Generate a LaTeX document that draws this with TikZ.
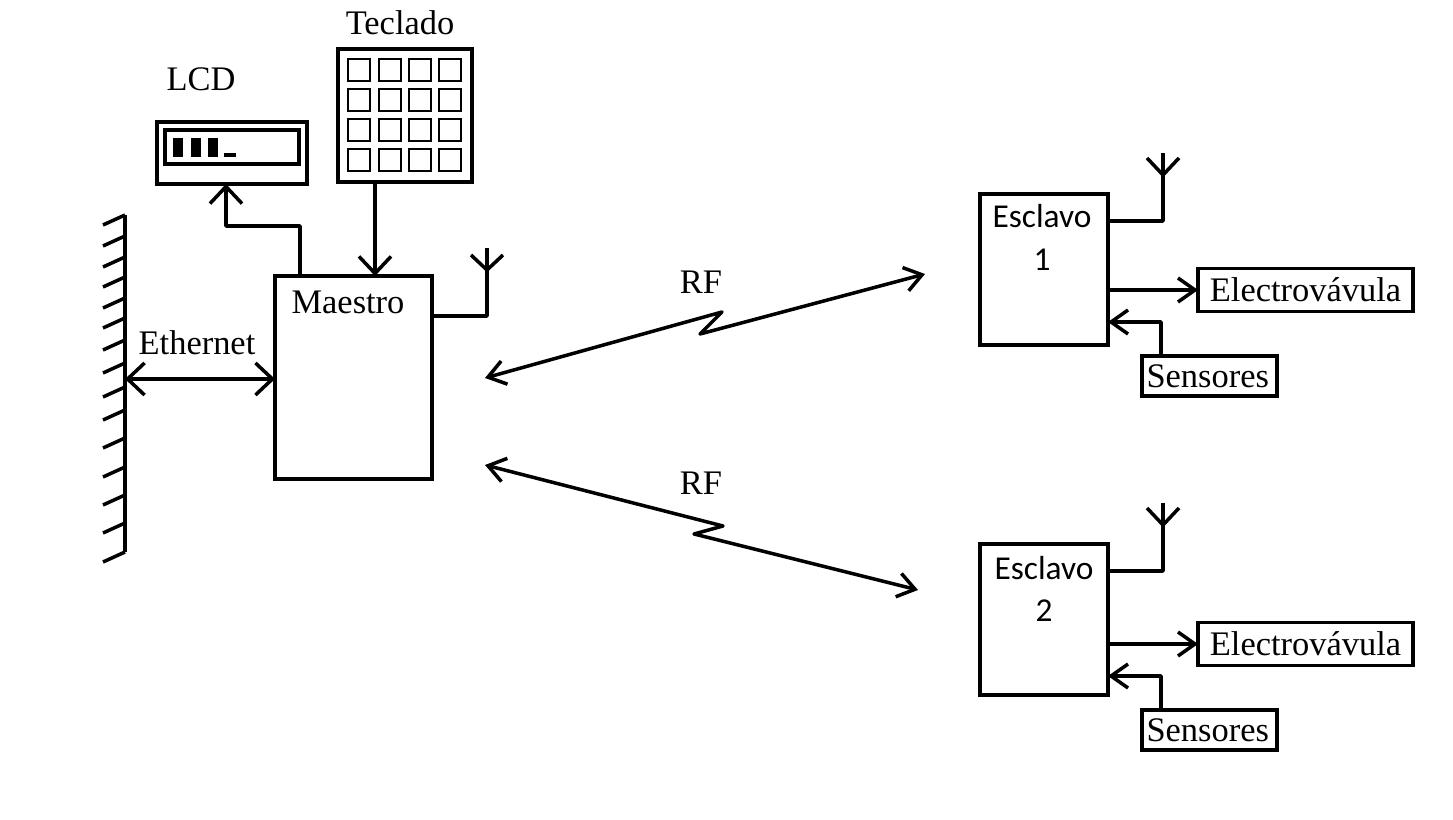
\documentclass[tikz,border=0pt]{standalone}
\usepackage{fontspec}
\setmainfont{Liberation Serif}
\newfontfamily\calibrifont{Carlito}
\usetikzlibrary{arrows.meta}

\tikzset{
    linea/.style={line width=2pt, line join=round},
    flecha/.style={linea, >={Straight Barb[length=3.4mm, width=4.8mm]}},
    flechaG/.style={linea, >={Straight Barb[length=3.4mm, width=6.4mm]}},
    bloque/.style={draw, line width=1.9pt, inner sep=0pt, outer sep=0pt},
    texto/.style={inner sep=0pt, font=\fontsize{19.6}{24}\selectfont},
    textoesc/.style={inner sep=0pt, font=\calibrifont\fontsize{19}{23}\selectfont},
}

\begin{document}
\begin{tikzpicture}[x=0.02cm, y=-0.02cm]
    \useasboundingbox (0,0) rectangle (1453,820);
    % Pared de Ethernet
    \coordinate (paredsup) at (125,215);
    \coordinate (paredinf) at (125,552);
    \coordinate (pared) at (125,379);
    \draw[linea] (paredsup) -- (paredinf);
    \foreach \y in {215,236,257,277,298,318,340,363,387,410,438,467,495,523,552}
        \draw[linea] (125,\y) -- ++(-22,10);
    % Maestro
    \node[bloque, minimum width=3.14cm, minimum height=4.06cm] (maestro) at (353.5,377.5) {};
    \node[texto] (txtmaestro) at (348,302) {Maestro};
    \node[texto] (txtethernet) at (197,343) {Ethernet};
    \draw[flechaG, <->] (pared) -- (pared -| maestro.west);
    % LCD
    \node[bloque, minimum width=3cm, minimum height=1.24cm] (lcd) at (232,153) {};
    \node[bloque, minimum width=2.68cm, minimum height=0.68cm] (pantalla) at (232,147) {};
    \foreach \x in {173,191,208}
        \fill (\x,138) rectangle ++(10,19);
    \fill (224,153) rectangle (236,157);
    \node[texto] (txtlcd) at (201,79) {LCD};
    \coordinate (codo1) at (300,226);
    \coordinate (codo2) at (226,226);
    \draw[flechaG, ->] (maestro.north -| codo1) -- (codo1) -- (codo2) -- (codo2 |- lcd.south);
    % Teclado
    \node[bloque, minimum width=2.68cm, minimum height=2.66cm] (teclado) at (405,115.5) {};
    \foreach \x in {348,379,409,439}
        \foreach \y in {59,89,119,149}
            \draw[line width=1.2pt] (\x,\y) rectangle ++(22,22);
    \node[texto] (txtteclado) at (400,23) {Teclado};
    \coordinate (tec) at (375,230);
    \draw[flechaG, ->] (tec |- teclado.south) -- (tec |- maestro.north);
    % Antena del maestro
    \coordinate (basem) at (487,316);
    \coordinate (antenam) at (487,248);
    \draw[linea] (basem -| maestro.east) -- (basem) -- (antenam);
    \draw[linea] (antenam) ++(-16,7) -- ++(16,15) -- ++(16,-15);
    % Enlaces RF
    \coordinate (rf1a) at (485,378);
    \coordinate (rf1b) at (722,312);
    \coordinate (rf1c) at (700,334);
    \coordinate (rf1d) at (925,274);
    \draw[flecha, <->] (rf1a) -- (rf1b) -- (rf1c) -- (rf1d);
    \node[texto] (txtrf1) at (701,282) {RF};
    \coordinate (rf2a) at (485,465);
    \coordinate (rf2b) at (723,526);
    \coordinate (rf2c) at (694,534);
    \coordinate (rf2d) at (918,590);
    \draw[flecha, <->] (rf2a) -- (rf2b) -- (rf2c) -- (rf2d);
    \node[texto] (txtrf2) at (701,483) {RF};
    % Esclavos
    \foreach \n/\dy/\de/\dt in {1/0/0/0, 2/350/354/2} {
        \node[bloque, minimum width=2.56cm, minimum height=3.02cm] (esclavo\n) at (1044,{269.5+\dy}) {};
        \node[textoesc] (txtesc\n) at ({1042+\dt},{216+\dy+\dt}) {Esclavo};
        \node[textoesc] (num\n) at ({1042+\dt},{260+\dy+\dt/2}) {\n};
        \node[bloque, minimum width=4.3cm, minimum height=0.86cm] (valvula\n) at (1305.5,{290+\de}) {};
        \node[texto] at (valvula\n) {Electrovávula};
        \node[bloque, minimum width=2.7cm, minimum height=0.8cm] (sensores\n) at (1209.5,{376+\de}) {};
        \node[texto] at ([xshift=-1pt]sensores\n.center) {Sensores};
        \draw[flecha, ->] (esclavo\n.east |- valvula\n) -- (valvula\n.west);
        \coordinate (codos\n) at (1161,{322+\de});
        \draw[flecha, ->] (codos\n |- sensores\n.north) -- (codos\n) -- (codos\n -| esclavo\n.east);
        \coordinate (basee\n) at (1163,{221+\dy});
        \coordinate (antenae\n) at (1163,{153+\dy});
        \draw[linea] (basee\n -| esclavo\n.east) -- (basee\n) -- (antenae\n);
        \draw[linea] (antenae\n) ++(-16,5) -- ++(16,17) -- ++(16,-17);
    }
\end{tikzpicture}
\end{document}
